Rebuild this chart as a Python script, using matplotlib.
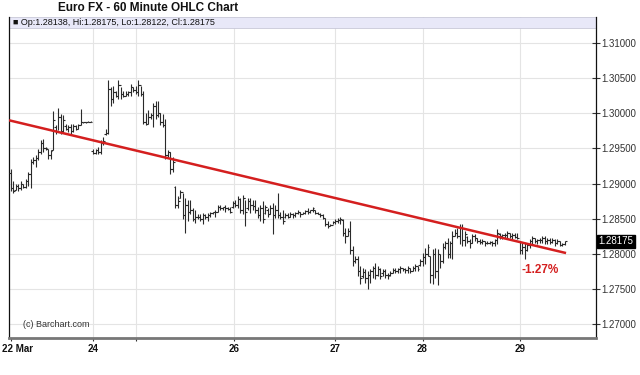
import matplotlib
matplotlib.use("Agg")
import matplotlib.pyplot as plt
import matplotlib.transforms as mtransforms
import numpy as np

plt.rcParams['font.family'] = ['Liberation Sans', 'DejaVu Sans']

title = "Euro FX - 60 Minute OHLC Chart"
info_text = "Op:1.28138, Hi:1.28175, Lo:1.28122, Cl:1.28175"
last_price = 1.28175
change_label = "-1.27%"
copyright_text = "(c) Barchart.com"

highs = [
    1.2921,1.2903,1.2900,1.2899,1.2903,1.2900,1.2906,1.2917,1.2935,1.2938,
    1.2941,1.2949,1.2962,1.2963,1.2952,1.2949,1.2948,1.3003,1.2983,1.3007,
    1.2999,1.2997,1.2984,1.2983,1.2984,1.2984,1.2983,1.2984,1.3006,1.2988,
    1.2988,1.2989,1.2989,1.2949,1.2949,1.2952,1.2962,1.2966,1.2977,1.3047,
    1.3037,1.3039,1.3032,1.3047,1.3037,1.3032,1.3032,1.3032,1.3041,1.3037,
    1.3039,1.3047,1.3039,1.3032,1.3001,1.3004,1.3001,1.3015,1.3018,1.3018,
    1.3001,1.2999,1.2992,1.2948,1.2945,1.2938,1.2896,1.2882,1.2891,1.2886,
    1.2879,1.2877,1.2877,1.2865,1.2863,1.2856,1.2856,1.2858,1.2856,1.2858,
    1.2860,1.2860,1.2863,1.2870,1.2870,1.2867,1.2869,1.2867,1.2867,1.2875,
    1.2877,1.2882,1.2879,1.2884,1.2877,1.2879,1.2879,1.2877,1.2877,1.2867,
    1.2870,1.2875,1.2870,1.2865,1.2870,1.2872,1.2870,1.2886,1.2860,1.2863,
    1.2858,1.2858,1.2860,1.2858,1.2860,1.2863,1.2860,1.2860,1.2863,1.2865,
    1.2863,1.2867,1.2863,1.2860,1.2858,1.2856,1.2851,1.2846,1.2843,1.2846,
    1.2849,1.2851,1.2853,1.2849,1.2836,1.2836,1.2846,1.2811,1.2797,1.2797,
    1.2783,1.2780,1.2779,1.2776,1.2779,1.2783,1.2787,1.2783,1.2780,1.2779,
    1.2779,1.2773,1.2776,1.2780,1.2780,1.2780,1.2783,1.2780,1.2780,1.2783,
    1.2780,1.2783,1.2786,1.2783,1.2793,1.2801,1.2808,1.2814,1.2797,1.2807,
    1.2808,1.2807,1.2800,1.2815,1.2818,1.2822,1.2818,1.2832,1.2835,1.2836,
    1.2842,1.2842,1.2832,1.2825,1.2821,1.2828,1.2828,1.2822,1.2821,1.2821,
    1.2818,1.2818,1.2818,1.2818,1.2821,1.2835,1.2829,1.2828,1.2829,1.2832,
    1.2829,1.2829,1.2829,1.2829,1.2818,1.2815,1.2815,1.2815,1.2821,1.2825,
    1.2822,1.2821,1.2822,1.2825,1.2825,1.2822,1.2822,1.2822,1.2821,1.2821,
    1.2818,1.2815,1.28175,
]
lows = [
    1.2889,1.2886,1.2891,1.2889,1.2891,1.2893,1.2893,1.2896,1.2893,1.2928,
    1.2924,1.2934,1.2942,1.2945,1.2948,1.2935,1.2935,1.2948,1.2970,1.2976,
    1.2970,1.2973,1.2976,1.2973,1.2970,1.2973,1.2976,1.2977,1.2983,1.2986,
    1.2986,1.2987,1.2987,1.2942,1.2942,1.2942,1.2942,1.2955,1.2969,1.2970,
    1.3011,1.3015,1.3023,1.3020,1.3020,1.3023,1.3025,1.3025,1.3025,1.3030,
    1.3027,1.3025,1.3025,1.2984,1.2983,1.2984,1.2992,1.2980,1.2992,1.2994,
    1.2983,1.2980,1.2935,1.2938,1.2914,1.2917,1.2865,1.2865,1.2879,1.2849,
    1.2829,1.2846,1.2856,1.2846,1.2844,1.2849,1.2846,1.2842,1.2849,1.2846,
    1.2853,1.2856,1.2853,1.2860,1.2863,1.2863,1.2860,1.2863,1.2858,1.2865,
    1.2867,1.2865,1.2858,1.2856,1.2839,1.2863,1.2858,1.2863,1.2858,1.2851,
    1.2846,1.2844,1.2856,1.2853,1.2856,1.2828,1.2851,1.2851,1.2849,1.2842,
    1.2851,1.2851,1.2853,1.2851,1.2853,1.2856,1.2853,1.2856,1.2856,1.2856,
    1.2858,1.2860,1.2856,1.2856,1.2853,1.2849,1.2839,1.2836,1.2839,1.2842,
    1.2842,1.2844,1.2842,1.2825,1.2815,1.2825,1.2800,1.2783,1.2787,1.2769,
    1.2757,1.2766,1.2759,1.2750,1.2759,1.2766,1.2764,1.2769,1.2764,1.2769,
    1.2766,1.2764,1.2769,1.2772,1.2773,1.2773,1.2773,1.2776,1.2773,1.2773,
    1.2773,1.2776,1.2776,1.2776,1.2783,1.2783,1.2786,1.2797,1.2759,1.2757,
    1.2766,1.2755,1.2780,1.2787,1.2807,1.2794,1.2794,1.2793,1.2825,1.2822,
    1.2814,1.2811,1.2811,1.2815,1.2808,1.2815,1.2818,1.2815,1.2814,1.2814,
    1.2811,1.2814,1.2814,1.2811,1.2811,1.2814,1.2821,1.2821,1.2822,1.2822,
    1.2822,1.2821,1.2822,1.2821,1.2800,1.2800,1.2793,1.2804,1.2808,1.2814,
    1.2815,1.2814,1.2815,1.2815,1.2814,1.2814,1.2814,1.2815,1.2811,1.2814,
    1.2811,1.2811,1.28122,
]
opens = [
    1.2915,1.2893,1.2891,1.2897,1.2893,1.2900,1.2895,1.2903,1.2913,1.2930,
    1.2933,1.2937,1.2945,1.2958,1.2950,1.2949,1.2940,1.2948,1.2980,1.2975,
    1.2995,1.2975,1.2982,1.2978,1.2980,1.2975,1.2982,1.2978,1.2983,1.2988,
    1.2987,1.2987,1.2988,1.2946,1.2944,1.2947,1.2945,1.2958,1.2970,1.2972,
    1.3035,1.3020,1.3030,1.3025,1.3040,1.3028,1.3025,1.3028,1.3030,1.3038,
    1.3033,1.3030,1.3040,1.3028,1.2988,1.2985,1.2995,1.2998,1.3010,1.2997,
    1.3000,1.2987,1.2983,1.2940,1.2945,1.2920,1.2895,1.2870,1.2880,1.2888,
    1.2855,1.2870,1.2860,1.2862,1.2850,1.2852,1.2853,1.2850,1.2855,1.2852,
    1.2855,1.2858,1.2859,1.2860,1.2867,1.2865,1.2866,1.2865,1.2864,1.2866,
    1.2872,1.2870,1.2878,1.2862,1.2880,1.2865,1.2875,1.2870,1.2868,1.2862,
    1.2855,1.2865,1.2858,1.2862,1.2856,1.2865,1.2855,1.2862,1.2855,1.2853,
    1.2852,1.2855,1.2853,1.2857,1.2855,1.2858,1.2860,1.2856,1.2858,1.2861,
    1.2860,1.2862,1.2863,1.2858,1.2857,1.2855,1.2851,1.2843,1.2840,1.2841,
    1.2845,1.2847,1.2848,1.2848,1.2830,1.2825,1.2832,1.2805,1.2790,1.2793,
    1.2775,1.2768,1.2774,1.2765,1.2770,1.2775,1.2780,1.2770,1.2778,1.2772,
    1.2776,1.2770,1.2770,1.2773,1.2777,1.2776,1.2778,1.2780,1.2778,1.2777,
    1.2780,1.2776,1.2780,1.2782,1.2784,1.2790,1.2795,1.2800,1.2797,1.2770,
    1.2800,1.2775,1.2800,1.2790,1.2810,1.2815,1.2800,1.2815,1.2825,1.2830,
    1.2825,1.2838,1.2820,1.2824,1.2818,1.2815,1.2825,1.2822,1.2818,1.2817,
    1.2818,1.2815,1.2816,1.2817,1.2815,1.2819,1.2828,1.2825,1.2827,1.2826,
    1.2829,1.2825,1.2827,1.2824,1.2818,1.2805,1.2810,1.2805,1.2812,1.2818,
    1.2822,1.2818,1.2819,1.2820,1.2822,1.2818,1.2820,1.2817,1.2819,1.2815,
    1.2818,1.2813,1.28138,
]
closes = [
    1.2893,1.2889,1.2897,1.2893,1.2900,1.2895,1.2903,1.2913,1.2930,1.2933,
    1.2937,1.2945,1.2958,1.2950,1.2950,1.2940,1.2946,1.2990,1.2975,1.2995,
    1.2975,1.2990,1.2978,1.2980,1.2975,1.2982,1.2978,1.2983,1.2988,1.2987,
    1.2987,1.2988,1.2988,1.2944,1.2947,1.2945,1.2958,1.2960,1.2972,1.3035,
    1.3020,1.3030,1.3025,1.3040,1.3028,1.3025,1.3028,1.3030,1.3038,1.3033,
    1.3030,1.3040,1.3028,1.2988,1.2985,1.2995,1.2998,1.3010,1.2997,1.3000,
    1.2987,1.2983,1.2940,1.2945,1.2920,1.2930,1.2870,1.2875,1.2888,1.2855,
    1.2870,1.2860,1.2862,1.2850,1.2852,1.2853,1.2850,1.2855,1.2852,1.2855,
    1.2858,1.2859,1.2860,1.2867,1.2865,1.2866,1.2865,1.2864,1.2860,1.2872,
    1.2870,1.2878,1.2862,1.2880,1.2860,1.2875,1.2870,1.2868,1.2862,1.2855,
    1.2865,1.2850,1.2866,1.2856,1.2865,1.2855,1.2862,1.2855,1.2853,1.2846,
    1.2855,1.2853,1.2857,1.2855,1.2858,1.2860,1.2856,1.2858,1.2861,1.2860,
    1.2862,1.2865,1.2858,1.2857,1.2855,1.2851,1.2843,1.2840,1.2841,1.2845,
    1.2847,1.2848,1.2850,1.2830,1.2825,1.2832,1.2805,1.2790,1.2793,1.2775,
    1.2765,1.2774,1.2765,1.2770,1.2775,1.2780,1.2770,1.2778,1.2768,1.2776,
    1.2770,1.2768,1.2773,1.2777,1.2776,1.2778,1.2780,1.2778,1.2777,1.2780,
    1.2776,1.2780,1.2782,1.2779,1.2790,1.2795,1.2800,1.2810,1.2770,1.2800,
    1.2775,1.2800,1.2790,1.2810,1.2815,1.2800,1.2815,1.2825,1.2830,1.2825,
    1.2838,1.2820,1.2828,1.2818,1.2815,1.2825,1.2822,1.2818,1.2817,1.2818,
    1.2815,1.2816,1.2817,1.2815,1.2819,1.2830,1.2825,1.2827,1.2826,1.2829,
    1.2825,1.2827,1.2824,1.2823,1.2805,1.2810,1.2805,1.2812,1.2818,1.2822,
    1.2818,1.2819,1.2820,1.2822,1.2818,1.2820,1.2817,1.2819,1.2815,1.2818,
    1.2813,1.2814,1.28175,
]

# day ticks (bar-index positions)
day_positions = [0, 33, 50, 89.5, 130, 165, 204]
day_labels = ["22 Mar", "24", "", "26", "27", "28", "29"]

# y ticks
y_ticks = [1.27, 1.275, 1.28, 1.285, 1.29, 1.295, 1.30, 1.305, 1.31]

# trend line (start/end bar index and price)
trend_x = [-0.7, 222.5]
trend_y = [1.2990, 1.2801]
change_pos = (212, 1.27775)

idx = np.arange(len(highs))

fig = plt.figure(figsize=(6.4, 3.75), dpi=100)
ax = fig.add_axes([9/640, 37/375, 587/640, 321/375])
ax.set_xlim(-0.7, 234.5)
ax.set_ylim(1.26801, 1.31370)

# grid
for yt in y_ticks:
    ax.axhline(yt, color='#e4e4e4', lw=0.8, zorder=0)
for xp in day_positions[1:]:
    ax.axvline(xp, color='#e4e4e4', lw=0.8, zorder=0)

# info band at top
band_h = 11/321
ax.add_patch(plt.Rectangle((0, 1-band_h), 1, band_h, transform=ax.transAxes,
                           facecolor='#e8e8f8', edgecolor='#c8c8d8', lw=0.6,
                           zorder=1, clip_on=False))
ax.text(0.006, 1-band_h/2, "\u25A0 " + info_text, transform=ax.transAxes,
        fontsize=6.5, va='center', ha='left', color='#111111', zorder=2)

# OHLC bars
col = '#2a2a2a'
ax.vlines(idx, lows, highs, color=col, lw=0.8, zorder=3)
ax.hlines(opens, idx-0.7, idx, color=col, lw=0.8, zorder=3)
ax.hlines(closes, idx, idx+0.7, color=col, lw=0.8, zorder=3)

# trend line
ax.plot(trend_x, trend_y, color='#d41f1f', lw=1.8, zorder=4, solid_capstyle='butt')
ax.text(change_pos[0], change_pos[1], change_label, color='#d41f1f',
        fontsize=8.5, fontweight='bold', ha='center', va='center', zorder=5)

# copyright
ax.text(5, 1.2699, copyright_text, fontsize=6.5, color='#333333',
        ha='left', va='center', zorder=5)

# axes styling
ax.yaxis.tick_right()
ax.set_yticks(y_ticks)
ax.set_yticklabels([f"{v:.5f}" for v in y_ticks])
ax.tick_params(axis='y', direction='inout', length=6, width=0.8, color='#333333',
               labelsize=7, labelcolor='#333333', pad=1)
ax.set_xticks(day_positions)
ax.set_xticklabels(day_labels)
for lbl in ax.get_xticklabels():
    lbl.set_fontweight('bold')
ax.tick_params(axis='x', direction='out', length=2.5, width=0.8, color='#333333',
               labelsize=7, labelcolor='#111111', pad=2)
first = ax.get_xticklabels()[0]
first.set_horizontalalignment('left')
first.set_transform(first.get_transform() +
                    mtransforms.ScaledTranslation(-9/100, 0, fig.dpi_scale_trans))

ax.spines['top'].set_visible(False)
ax.spines['left'].set_color('#111111')
ax.spines['left'].set_linewidth(0.9)
ax.spines['right'].set_color('#111111')
ax.spines['right'].set_linewidth(0.9)
ax.spines['bottom'].set_color('#777777')
ax.spines['bottom'].set_linewidth(2)

# last price tag
ax.annotate(f"{last_price:.5f}", xy=(1.0, last_price), xycoords=('axes fraction', 'data'),
            xytext=(2, 0), textcoords='offset points', fontsize=7, color='white',
            va='center', ha='left',
            bbox=dict(boxstyle='square,pad=0.15', fc='black', ec='black'),
            annotation_clip=False, zorder=6)

fig.text(148/640, 1-8/375, title, ha='center', va='center',
         fontsize=8.5, fontweight='bold', color='#111111')

fig.savefig("out.png", dpi=100)
